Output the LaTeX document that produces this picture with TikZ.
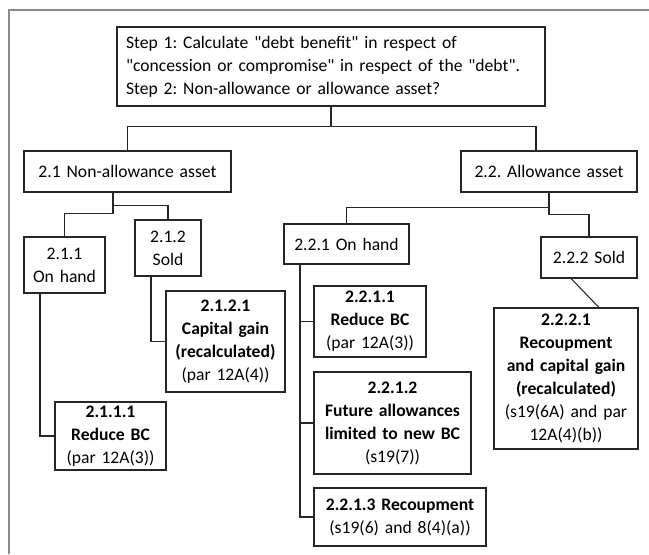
\documentclass[tikz,border=0pt]{standalone}
\usepackage{fontspec}
\newfontfamily\carlito{Carlito}
\usepackage{tikz}

\begin{document}
\begin{tikzpicture}[x=0.75pt, y=-0.75pt,
  every node/.style={font=\carlito\frenchspacing\fontsize{13.2}{17.25}\selectfont},
  box/.style 2 args={draw=black!85, line width=0.8pt, inner sep=0pt, align=center,
    text width=#1*0.75pt, minimum height=#2*0.75pt},
  link/.style={draw=black!85, line width=0.8pt}]
\useasboundingbox (0,0) rectangle (649,554);
\draw [black!45, line width=1.5pt] (9,554) |- (649,10);

% top of the tree
\node (step) [box={410}{79}, align=left, inner xsep=6.75pt] at (331,66.5)
  {Step 1: Calculate "debt benefit" in respect of\\"concession or compromise" in respect of the "debt".\\Step 2: Non-allowance or allowance asset?};
\node (nonallow) [box={207}{41}] at (127.5,171.5) {2.1 Non-allowance asset};
\node (allow) [box={176}{41}] at (549,171.5) {2.2. Allowance asset};

% non-allowance branch
\node (nonhand) [box={81}{56}] at (64.5,265) {2.1.1\\On hand};
\node (nonsold) [box={66}{56}] at (168,248) {2.1.2\\Sold};
\node (nonhandbc) [box={111}{68}] at (110.5,436)
  {\textbf{2.1.1.1}\\\textbf{Reduce BC}\\(par 12A(3))};
\node (nonsoldcg) [box={119}{101}] at (225.5,341.5)
  {\textbf{2.1.2.1}\\\textbf{Capital gain}\\\textbf{(recalculated)}\\(par 12A(4))};

% allowance branch
\node (allowhand) [box={125}{40}] at (346.5,244) {2.2.1 On hand};
\node (allowsold) [box={96}{41}] at (589,257.5) {2.2.2 Sold};
\node (allowbc) [box={112}{71}] at (370,321.5)
  {\textbf{2.2.1.1}\\\textbf{Reduce BC}\\(par 12A(3))};
\node (allowfut) [box={157}{102}] at (392.5,423)
  {\textbf{2.2.1.2}\\\textbf{Future allowances}\\\textbf{limited to new BC}\\(s19(7))};
\node (allowrec) [box={172}{58}] at (400,517)
  {\textbf{2.2.1.3 Recoupment}\\(s19(6) and 8(4)(a))};
\node (allowreccg) [box={144}{141}] at (566,378.5)
  {\textbf{2.2.2.1}\\\textbf{Recoupment}\\\textbf{and capital gain}\\\textbf{(recalculated)}\\(s19(6A) and par\\12A(4)(b))};

% connectors
\draw [link] (step.south) -- ++(0,20) -| (nonallow.north);
\draw [link] (step.south) -- ++(0,20) -| ([xshift=-9.75pt]allow.north);
\draw [link] ([xshift=-10.9pt]nonallow.south) -- ++(0,13) -| (nonsold.north);
\draw [link] ([xshift=-10.9pt]nonallow.south) -- ++(0,21) -| (nonhand.north);
\draw [link] (allow.south) -- ++(0,15) -| (allowhand.north);
\draw [link] (allow.south) -- ++(0,22) -| (allowsold.north);
\draw [link] ([xshift=-18.4pt]nonhand.south) |- (nonhandbc.west);
\draw [link] ([xshift=-12.75pt]nonsold.south) |- (nonsoldcg.west);
\draw [link] ([xshift=-34.9pt]allowhand.south) |- (allowbc.west);
\draw [link] ([xshift=-34.9pt]allowhand.south) |- (allowfut.west);
\draw [link] ([xshift=-34.9pt]allowhand.south) |- (allowrec.west);
\draw [link] ([xshift=-13.5pt]allowsold.south) -- ([xshift=24.75pt]allowreccg.north);
\end{tikzpicture}
\end{document}
